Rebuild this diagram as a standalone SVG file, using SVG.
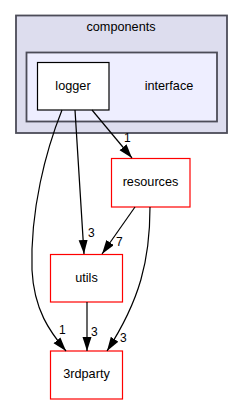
<svg xmlns="http://www.w3.org/2000/svg" width="243" height="404" viewBox="0 0 243 404">
<defs>
<style>
text{font-family:"Liberation Sans",Arial,sans-serif;font-size:12.7px;fill:#000}
.lbl{font-size:12px}
.node{fill:#fff;stroke:#ff0000;stroke-width:1.2}
.edge{fill:none;stroke:#000;stroke-width:1.2}
</style>
<marker id="ah" markerUnits="userSpaceOnUse" markerWidth="15" markerHeight="11" refX="14" refY="4.5" orient="auto">
<path d="M0,0 L14,4.5 L0,9 z" fill="#000"/>
</marker>
</defs>
<rect width="243" height="404" fill="#fff"/>
<g id="cluster_components">
<rect x="16" y="15.5" width="211" height="117.5" fill="#ddddee" stroke="#4c4c58" stroke-width="1.8"/>
<text x="121" y="31" text-anchor="middle">components</text>
</g>
<g id="cluster_interface">
<rect x="26.5" y="52.5" width="190.5" height="69" fill="#eeeeff" stroke="#4c4c58" stroke-width="1.8"/>
<text x="169" y="90" text-anchor="middle">interface</text>
</g>
<g id="logger">
<rect x="37.5" y="62.5" width="71.5" height="47.5" fill="#fff" stroke="#000" stroke-width="1.2"/>
<text x="73" y="90" text-anchor="middle">logger</text>
</g>
<g id="resources">
<rect class="node" x="111.5" y="158.5" width="78.5" height="48.5"/>
<text x="150.5" y="185.5" text-anchor="middle">resources</text>
</g>
<g id="utils">
<rect class="node" x="50.5" y="254.5" width="72" height="47.5"/>
<text x="86.5" y="281.5" text-anchor="middle">utils</text>
</g>
<g id="thirdparty">
<rect class="node" x="50.5" y="351" width="72" height="48"/>
<text x="86.5" y="377.5" text-anchor="middle">3rdparty</text>
</g>
<g id="edges">
<path class="edge" d="M92,110 L132,158" marker-end="url(#ah)"/>
<text class="lbl" x="124" y="142">1</text>
<path class="edge" d="M75,110 L84,254" marker-end="url(#ah)"/>
<text class="lbl" x="88" y="237">3</text>
<path class="edge" d="M62,110 C46,150 30,210 32,270 C34,310 50,332 66,351" marker-end="url(#ah)"/>
<text class="lbl" x="59" y="334">1</text>
<path class="edge" d="M135,207 L102,254" marker-end="url(#ah)"/>
<text class="lbl" x="116" y="246">7</text>
<path class="edge" d="M150,207 C150,260 140,300 107,351" marker-end="url(#ah)"/>
<text class="lbl" x="120" y="342">3</text>
<path class="edge" d="M87,302 L87,351" marker-end="url(#ah)"/>
<text class="lbl" x="91" y="336">3</text>
</g>
</svg>
